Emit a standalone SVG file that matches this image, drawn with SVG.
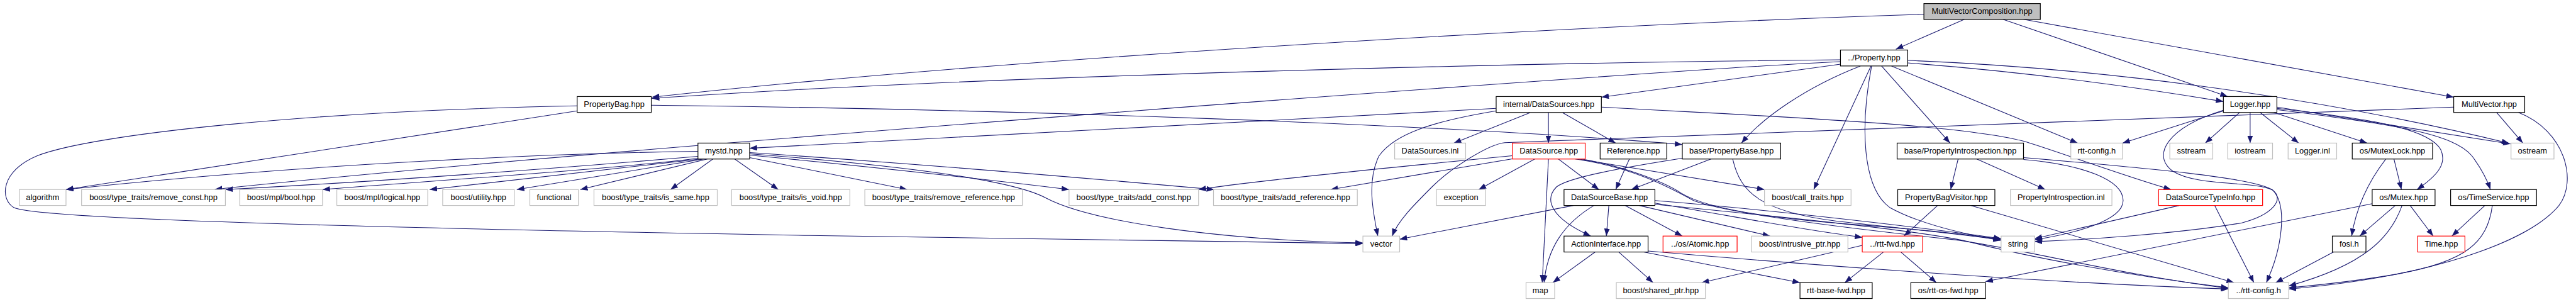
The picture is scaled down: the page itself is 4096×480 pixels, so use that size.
<svg xmlns="http://www.w3.org/2000/svg" width="4096" height="480" viewBox="0 0 4096 480">
<style>
.node rect{fill:#ffffff;stroke:#000000;stroke-width:1.2}
.node.ext rect{stroke:#bfbfbf}
.node.red rect{stroke:#ff0000}
.node.root rect{fill:#bfbfbf}
.node text{font-family:"Liberation Sans",Arial,sans-serif;font-size:13px;fill:#000000;text-anchor:middle}
#edges path{fill:none;stroke:#191970;stroke-width:1.1;marker-end:url(#arr)}
</style>
<defs>
<marker id="arr" viewBox="0 0 12 9" refX="12" refY="4.5" markerWidth="12" markerHeight="9" markerUnits="userSpaceOnUse" orient="auto"><path d="M0,0 L12,4.5 L0,9 Z" fill="#191970"/></marker>
</defs>
<rect x="0" y="0" width="4096" height="480" fill="#ffffff"/>
<g transform="scale(0.99)">
<g id="edges">
<path d="M3090,23 C2500,42 1600,95 1047,156"/>
<path d="M2956,96 C2500,100 1600,120 1047,158"/>
<path d="M3155,31 L3045,79"/>
<path d="M3217,31 L3578,155"/>
<path d="M3250,31 L3941,156"/>
<path d="M2956,103 L2572,156"/>
<path d="M2956,99 C2700,110 1000,235 345,304"/>
<path d="M2988,106 C2900,140 2830,190 2797,229.7"/>
<path d="M3005,106 L2913,304.3"/>
<path d="M3006,106 C2988,200 2990,300 3035,333 C3080,358 3150,375 3213,386"/>
<path d="M3022,106 L3132,229.7"/>
<path d="M3038,106 L3337,229.7"/>
<path d="M3064,101 C3250,115 3420,138 3571,163"/>
<path d="M3064,97 C3350,108 3700,150 4030,230"/>
<path d="M927,178 L106,304.3"/>
<path d="M927,170 C500,178 150,215 60,250 C0,275 0,320 22,333 C60,352 600,366 1300,378 C1700,385 2000,389 2189,391"/>
<path d="M1046,169 C1600,175 2300,198 2702,232"/>
<path d="M2403,174 L1204,238"/>
<path d="M2457,181 L2335,229.7"/>
<path d="M2487,181 L2487,229.7"/>
<path d="M2510,181 L2595,229.7"/>
<path d="M2403,178 C2300,195 2240,215 2215,250 C2195,290 2205,340 2213,379"/>
<path d="M2572,172 C2800,185 3150,198 3255,228 C3310,245 3410,282 3487,304.3"/>
<path d="M1121,243 C900,246 500,262 106,304.3"/>
<path d="M1121,251 C900,270 600,292 362,304.3"/>
<path d="M1121,254 C1000,270 700,290 518,304.3"/>
<path d="M1125,255.3 L690,304.3"/>
<path d="M1130,255.3 L830,304.3"/>
<path d="M1136,255.3 L932,304.3"/>
<path d="M1145,255.3 L1077,304.3"/>
<path d="M1180,255.3 L1250,304.3"/>
<path d="M1204,253 L1457,304.3"/>
<path d="M1204,245 C1400,258 1700,282 1950,304.3"/>
<path d="M1204,249 C1400,268 1600,290 1717,304.3"/>
<path d="M1204,247 C1400,262 1620,285 1680,318 C1750,355 1950,385 2189,390"/>
<path d="M2429,250 C2200,272 2000,292 1925,304.3"/>
<path d="M2429,255 L2137,304.3"/>
<path d="M2465,255.3 L2375,304.3"/>
<path d="M2487,255.3 L2477,453.7"/>
<path d="M2503,255.3 L2568,304.3"/>
<path d="M2535,255.3 L2834,304.3"/>
<path d="M2540,255.3 C2600,265 2670,290 2700,310 C2740,335 2850,352 3000,362 C3100,370 3170,378 3214,384"/>
<path d="M2530,255.3 C2620,268 2680,300 2720,322 C2780,345 3000,370 3140,385 C3250,400 3400,440 3579,463"/>
<path d="M2527,329.9 L2248,384"/>
<path d="M2560,329.9 C2510,360 2485,400 2480,453.7"/>
<path d="M2584,329.9 L2580,379"/>
<path d="M2610,329.9 L2702,379"/>
<path d="M2633,329.9 L2843,379"/>
<path d="M2658,326 C2800,350 2900,370 2991,381"/>
<path d="M2658,322 C2800,333 3050,360 3214,383"/>
<path d="M2658,328 C2900,352 3100,372 3170,390 C3250,410 3400,440 3579,462"/>
<path d="M2748,255.3 L2620,304.3"/>
<path d="M2702,254 C2600,270 2520,285 2500,300 C2480,320 2490,350 2555,379"/>
<path d="M2783,255.3 C2795,310 2830,340 2950,355 C3050,366 3150,376 3214,385"/>
<path d="M2617,255.3 L2595,304.3"/>
<path d="M2562,404.6 L2494,453.7"/>
<path d="M2600,404.6 L2655,453.7"/>
<path d="M2640,404.6 L2891,453.7"/>
<path d="M2647,403 C2900,425 3300,455 3579,464"/>
<path d="M2991,394 L2733,453.7"/>
<path d="M3025,404.6 L2963,453.7"/>
<path d="M3053,404.6 L3110,453.7"/>
<path d="M3145,255.3 L3133,304.3"/>
<path d="M3175,255.3 L3285,304.3"/>
<path d="M3250,256 C3350,265 3410,290 3410,322 C3410,355 3330,375 3268,385"/>
<path d="M3250,253 C3450,270 3620,285 3650,305 C3675,330 3665,400 3640,453.7"/>
<path d="M3112,329.9 L3058,379"/>
<path d="M3165,329.9 L3588,453.7"/>
<path d="M3500,329.9 L3268,383"/>
<path d="M3557,329.9 L3620,453.7"/>
<path d="M3571,178 L3409,229.7"/>
<path d="M3597,180.6 L3542,229.7"/>
<path d="M3614,180.6 L3614,229.7"/>
<path d="M3630,180.6 L3692,229.7"/>
<path d="M3652,180.6 L3802,229.7"/>
<path d="M3657,172 L4032,231"/>
<path d="M3657,174 C3800,190 3900,205 3920,240 C3932,265 3910,285 3882,304.3"/>
<path d="M3657,176 C3850,200 3940,215 3970,250 C3985,270 3995,290 4000,304.3"/>
<path d="M3571,177 C3480,205 3455,250 3490,275 C3530,300 3620,290 3650,305 C3670,320 3650,345 3600,358 C3500,375 3350,385 3268,388"/>
<path d="M4010,180.6 L4052,229.7"/>
<path d="M3941,172 L2417,229 C2390,232 2330,270 2300,300 C2270,330 2245,355 2236,379"/>
<path d="M4045,180.6 C4120,210 4140,290 4110,330 C4060,390 3900,445 3676,464"/>
<path d="M3845,255.3 L3857,304.3"/>
<path d="M3832,255.3 C3805,290 3785,330 3777,379"/>
<path d="M3847,329.9 L3790,379"/>
<path d="M3871,329.9 L3908,379"/>
<path d="M3858,329.9 C3840,380 3800,425 3676,459"/>
<path d="M3810,327 L3189,452"/>
<path d="M3991,329.9 L3938,379"/>
<path d="M4003,329.9 C3995,390 3960,420 3850,440 C3780,452 3720,458 3676,462"/>
<path d="M3748,404.6 L3655,453.7"/>
</g>
<g id="n_mvc" class="node root"><rect x="3090" y="5.7" width="187" height="25.6"/><text x="3183.5" y="22.7">MultiVectorComposition.hpp</text></g>
<g id="n_prop" class="node"><rect x="2956" y="80.3" width="108" height="25.6"/><text x="3010" y="97.3">../Property.hpp</text></g>
<g id="n_pbag" class="node"><rect x="927" y="155" width="119" height="25.6"/><text x="986.5" y="172">PropertyBag.hpp</text></g>
<g id="n_dss" class="node"><rect x="2403" y="155" width="169" height="25.6"/><text x="2487.5" y="172">internal/DataSources.hpp</text></g>
<g id="n_logger" class="node"><rect x="3571" y="155" width="86" height="25.6"/><text x="3614" y="172">Logger.hpp</text></g>
<g id="n_mv" class="node"><rect x="3941" y="155" width="114" height="25.6"/><text x="3998" y="172">MultiVector.hpp</text></g>
<g id="n_mystd" class="node"><rect x="1121" y="229.7" width="83" height="25.6"/><text x="1162.5" y="246.7">mystd.hpp</text></g>
<g id="n_dsinl" class="node ext"><rect x="2240" y="229.7" width="114" height="25.6"/><text x="2297" y="246.7">DataSources.inl</text></g>
<g id="n_ds" class="node red"><rect x="2429" y="229.7" width="117" height="25.6"/><text x="2487.5" y="246.7">DataSource.hpp</text></g>
<g id="n_ref" class="node"><rect x="2570" y="229.7" width="107" height="25.6"/><text x="2623.5" y="246.7">Reference.hpp</text></g>
<g id="n_pbase" class="node"><rect x="2702" y="229.7" width="158" height="25.6"/><text x="2781" y="246.7">base/PropertyBase.hpp</text></g>
<g id="n_pintro" class="node"><rect x="3047" y="229.7" width="203" height="25.6"/><text x="3148.5" y="246.7">base/PropertyIntrospection.hpp</text></g>
<g id="n_rttcfg" class="node ext"><rect x="3326" y="229.7" width="83" height="25.6"/><text x="3367.5" y="246.7">rtt-config.h</text></g>
<g id="n_sstream" class="node ext"><rect x="3485" y="229.7" width="69" height="25.6"/><text x="3519.5" y="246.7">sstream</text></g>
<g id="n_iostream" class="node ext"><rect x="3578" y="229.7" width="72" height="25.6"/><text x="3614" y="246.7">iostream</text></g>
<g id="n_loginl" class="node ext"><rect x="3675" y="229.7" width="78" height="25.6"/><text x="3714" y="246.7">Logger.inl</text></g>
<g id="n_mlock" class="node"><rect x="3778" y="229.7" width="129" height="25.6"/><text x="3842.5" y="246.7">os/MutexLock.hpp</text></g>
<g id="n_ostream" class="node ext"><rect x="4033" y="229.7" width="69" height="25.6"/><text x="4067.5" y="246.7">ostream</text></g>
<g id="n_algo" class="node ext"><rect x="31" y="304.3" width="75" height="25.6"/><text x="68.5" y="321.3">algorithm</text></g>
<g id="n_rmconst" class="node ext"><rect x="131" y="304.3" width="231" height="25.6"/><text x="246.5" y="321.3">boost/type_traits/remove_const.hpp</text></g>
<g id="n_bool" class="node ext"><rect x="385" y="304.3" width="133" height="25.6"/><text x="451.5" y="321.3">boost/mpl/bool.hpp</text></g>
<g id="n_logical" class="node ext"><rect x="541" y="304.3" width="146" height="25.6"/><text x="614" y="321.3">boost/mpl/logical.hpp</text></g>
<g id="n_utility" class="node ext"><rect x="711" y="304.3" width="115" height="25.6"/><text x="768.5" y="321.3">boost/utility.hpp</text></g>
<g id="n_functional" class="node ext"><rect x="851" y="304.3" width="78" height="25.6"/><text x="890" y="321.3">functional</text></g>
<g id="n_issame" class="node ext"><rect x="954" y="304.3" width="198" height="25.6"/><text x="1053" y="321.3">boost/type_traits/is_same.hpp</text></g>
<g id="n_isvoid" class="node ext"><rect x="1175" y="304.3" width="190" height="25.6"/><text x="1270" y="321.3">boost/type_traits/is_void.hpp</text></g>
<g id="n_rmref" class="node ext"><rect x="1389" y="304.3" width="253" height="25.6"/><text x="1515.5" y="321.3">boost/type_traits/remove_reference.hpp</text></g>
<g id="n_addconst" class="node ext"><rect x="1717" y="304.3" width="208" height="25.6"/><text x="1821" y="321.3">boost/type_traits/add_const.hpp</text></g>
<g id="n_addref" class="node ext"><rect x="1949" y="304.3" width="231" height="25.6"/><text x="2064.5" y="321.3">boost/type_traits/add_reference.hpp</text></g>
<g id="n_exc" class="node ext"><rect x="2307" y="304.3" width="79" height="25.6"/><text x="2346.5" y="321.3">exception</text></g>
<g id="n_dsb" class="node"><rect x="2512" y="304.3" width="146" height="25.6"/><text x="2585" y="321.3">DataSourceBase.hpp</text></g>
<g id="n_calltr" class="node ext"><rect x="2834" y="304.3" width="139" height="25.6"/><text x="2903.5" y="321.3">boost/call_traits.hpp</text></g>
<g id="n_pbv" class="node"><rect x="3048" y="304.3" width="156" height="25.6"/><text x="3126" y="321.3">PropertyBagVisitor.hpp</text></g>
<g id="n_pinl" class="node ext"><rect x="3229" y="304.3" width="163" height="25.6"/><text x="3310.5" y="321.3">PropertyIntrospection.inl</text></g>
<g id="n_dsti" class="node red"><rect x="3467" y="304.3" width="167" height="25.6"/><text x="3550.5" y="321.3">DataSourceTypeInfo.hpp</text></g>
<g id="n_mutex" class="node"><rect x="3810" y="304.3" width="101" height="25.6"/><text x="3860.5" y="321.3">os/Mutex.hpp</text></g>
<g id="n_ts" class="node"><rect x="3936" y="304.3" width="138" height="25.6"/><text x="4005" y="321.3">os/TimeService.hpp</text></g>
<g id="n_vector" class="node ext"><rect x="2189" y="379" width="59" height="25.6"/><text x="2218.5" y="396">vector</text></g>
<g id="n_ai" class="node"><rect x="2512" y="379" width="135" height="25.6"/><text x="2579.5" y="396">ActionInterface.hpp</text></g>
<g id="n_atomic" class="node red"><rect x="2671" y="379" width="119" height="25.6"/><text x="2730.5" y="396">../os/Atomic.hpp</text></g>
<g id="n_iptr" class="node ext"><rect x="2813" y="379" width="155" height="25.6"/><text x="2890.5" y="396">boost/intrusive_ptr.hpp</text></g>
<g id="n_rttfwd" class="node red"><rect x="2991" y="379" width="97" height="25.6"/><text x="3039.5" y="396">../rtt-fwd.hpp</text></g>
<g id="n_string" class="node ext"><rect x="3214" y="379" width="54" height="25.6"/><text x="3241" y="396">string</text></g>
<g id="n_fosi" class="node"><rect x="3746" y="379" width="54" height="25.6"/><text x="3773" y="396">fosi.h</text></g>
<g id="n_time" class="node red"><rect x="3883" y="379" width="76" height="25.6"/><text x="3921" y="396">Time.hpp</text></g>
<g id="n_map" class="node ext"><rect x="2451" y="453.7" width="46" height="25.6"/><text x="2474" y="470.7">map</text></g>
<g id="n_sptr" class="node ext"><rect x="2596" y="453.7" width="143" height="25.6"/><text x="2667.5" y="470.7">boost/shared_ptr.hpp</text></g>
<g id="n_rbf" class="node"><rect x="2891" y="453.7" width="116" height="25.6"/><text x="2949" y="470.7">rtt-base-fwd.hpp</text></g>
<g id="n_rof" class="node"><rect x="3069" y="453.7" width="120" height="25.6"/><text x="3129" y="470.7">os/rtt-os-fwd.hpp</text></g>
<g id="n_rcfg2" class="node ext"><rect x="3579" y="453.7" width="97" height="25.6"/><text x="3627.5" y="470.7">../rtt-config.h</text></g>
</g>
</svg>
